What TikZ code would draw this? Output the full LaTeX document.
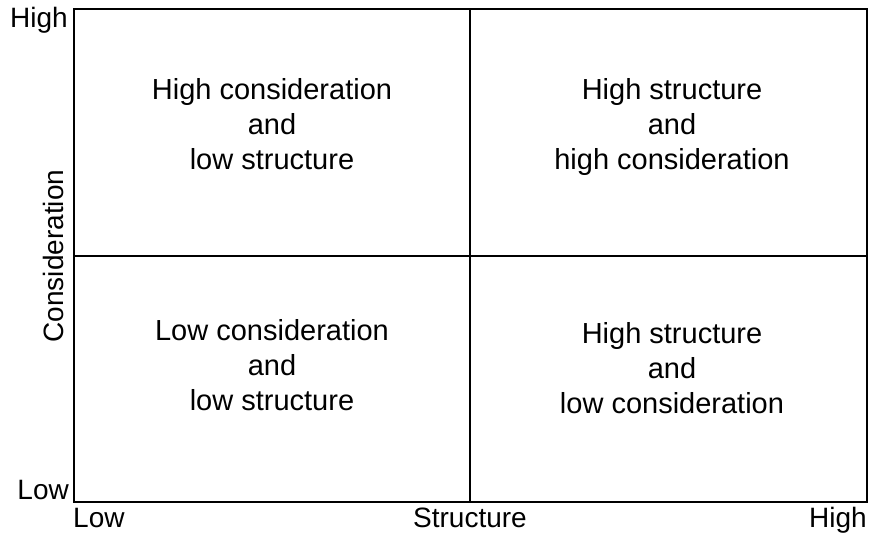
\documentclass[tikz,border=0pt]{standalone}
\usepackage{fontspec}
\setmainfont{Liberation Sans}
\usetikzlibrary{positioning}

\begin{document}
\begin{tikzpicture}[x=1pt, y=-1pt,
    cell/.style={align=center, inner sep=0pt, font=\fontsize{29}{35}\selectfont},
    axislabel/.style={inner sep=0pt, font=\fontsize{28}{34}\selectfont}]
  \useasboundingbox (0,0) rectangle (870,533);
  % grid
  \coordinate (nw) at (74,9);
  \coordinate (se) at (867,502);
  \coordinate (top) at (470,9);
  \coordinate (bot) at (470,502);
  \coordinate (lft) at (74,256);
  \coordinate (rgt) at (867,256);
  \draw[line width=1.5pt] (nw) rectangle (se);
  \draw[line width=1.5pt] (top) -- (bot);
  \draw[line width=1.5pt] (lft) -- (rgt);
  % quadrants
  \node[cell] (hcls) at (272,124) {High consideration\\and\\low structure};
  \node[cell] (hshc) at (672,127) {High structure\\and\\high consideration};
  \node[cell] (lcls) at (272,365) {Low consideration\\and\\low structure};
  \node[cell] (hslc) at (672,368) {High structure\\and\\low consideration};
  % axes
  \node[axislabel, anchor=base east] (yhigh) at (68,27) {High};
  \node[axislabel, anchor=base east] (ylow) at (69,499) {Low};
  \node[axislabel, anchor=base west] (xlow) at (73,527) {Low};
  \node[axislabel, anchor=base] (xname) at (470,527) {Structure};
  \node[axislabel, anchor=base east] (xhigh) at (867,527) {High};
  \node[axislabel, rotate=90, anchor=base] (yname) at (63,256) {Consideration};
\end{tikzpicture}
\end{document}
